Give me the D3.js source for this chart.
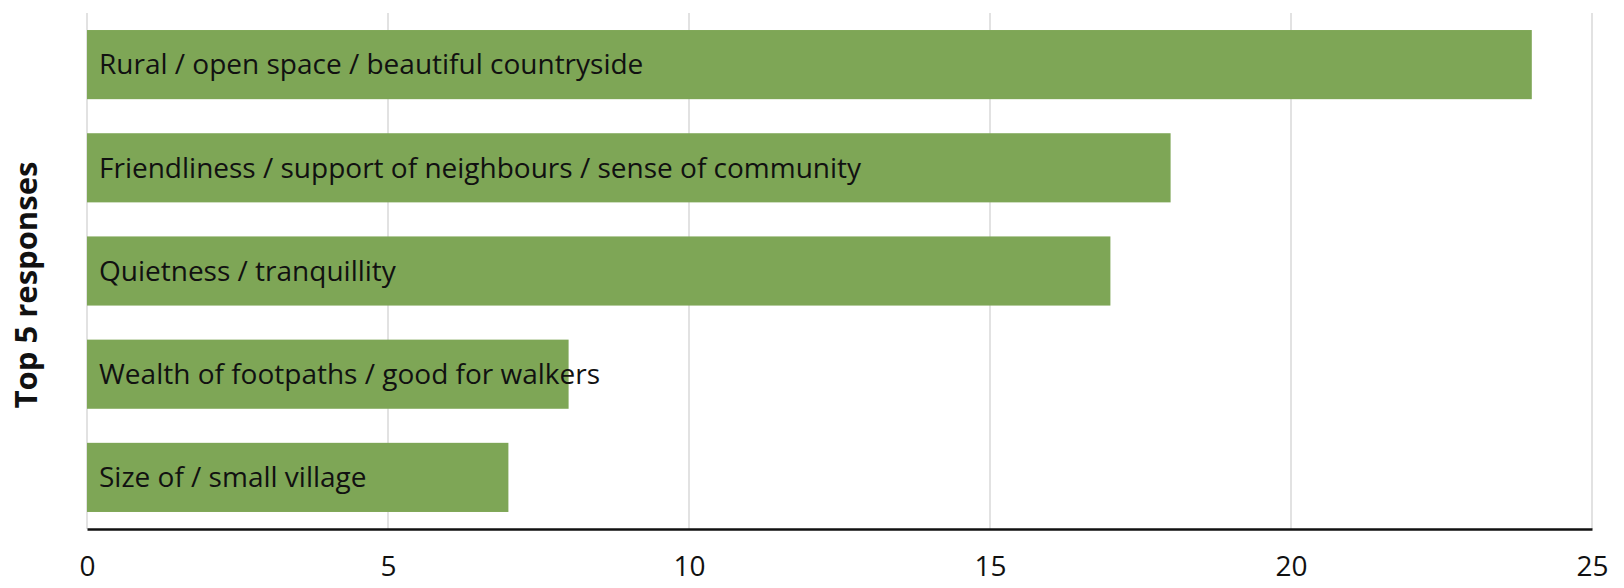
<!DOCTYPE html>
<html>
<head>
<meta charset="utf-8">
<script src="https://cdn.jsdelivr.net/npm/d3@7"></script>
<style>
  body { margin: 0; background: #fff; }
  text { font-family: "Open Sans", sans-serif; fill: #111; }
</style>
</head>
<body>
<div id="chart"></div>
<script>
// data
var categories = [
  'Rural / open space / beautiful countryside',
  'Friendliness / support of neighbours / sense of community',
  'Quietness / tranquillity',
  'Wealth of footpaths / good for walkers',
  'Size of / small village'
];
var counts = [24, 18, 17, 8, 7];
var xTicks = [0, 5, 10, 15, 20, 25];
var yTitle = 'Top 5 responses';

var W = 1624, H = 588;
var margin = {top: 13, right: 32, bottom: 59, left: 87};
var width = W - margin.left - margin.right,
    height = H - margin.top - margin.bottom;

var svg = d3.select('#chart').append('svg')
  .attr('width', W).attr('height', H)
  .append('g')
  .attr('transform', 'translate(' + margin.left + ',' + margin.top + ')');

var xx = d3.scaleLinear().domain([0, 25]).range([0, width]);
var yy = d3.scaleBand().domain(categories).range([0, height]).paddingInner(0.33).paddingOuter(0.165);

// gridlines
svg.selectAll('.grid').data(xTicks).enter().append('line')
  .attr('x1', function(d) { return xx(d); })
  .attr('x2', function(d) { return xx(d); })
  .attr('y1', 0).attr('y2', height)
  .attr('stroke', '#d9d9d9').attr('stroke-width', 1.5);

// bars
var rows = categories.map(function(c, i) { return {cat: c, val: counts[i]}; });
svg.selectAll('.bar').data(rows).enter().append('rect')
  .attr('x', 0)
  .attr('y', function(d) { return yy(d.cat); })
  .attr('width', function(d) { return xx(d.val); })
  .attr('height', yy.bandwidth())
  .attr('fill', '#7ea656');

// bar labels inside the bars
svg.selectAll('.lbl').data(rows).enter().append('text')
  .attr('x', 12)
  .attr('y', function(d) { return yy(d.cat) + yy.bandwidth() / 2; })
  .attr('dy', '0.35em')
  .style('font-size', '28px')
  .text(function(d) { return d.cat; });

// x axis
var xAxis = svg.append('g')
  .attr('transform', 'translate(0,' + height + ')')
  .call(d3.axisBottom(xx).tickValues(xTicks).tickSize(0).tickPadding(27));
xAxis.select('.domain').attr('stroke', '#111').attr('stroke-width', 2.5);
xAxis.selectAll('text').style('font-size', '28px').style('font-family', '"Open Sans", sans-serif').attr('fill', '#111');

// y title
svg.append('text')
  .attr('transform', 'translate(' + (-50) + ',' + (height / 2 + 14) + ') rotate(-90)')
  .attr('text-anchor', 'middle')
  .style('font-size', '31px')
  .style('font-weight', 'bold')
  .text(yTitle);
</script>
</body>
</html>
